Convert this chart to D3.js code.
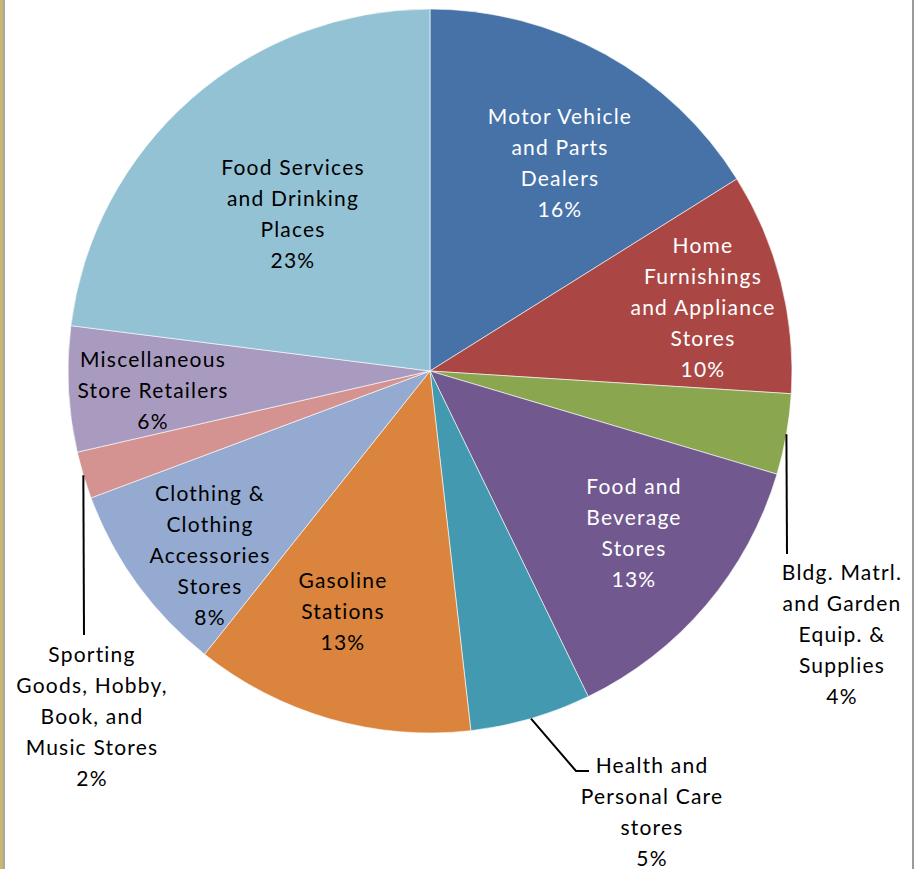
<!DOCTYPE html>
<html>
<head>
<meta charset="utf-8">
<script src="https://d3js.org/d3.v7.min.js"></script>
<style>
  html, body { margin: 0; padding: 0; background: #fff; }
  svg { display: block; }
</style>
</head>
<body>
<svg id="chart" width="914" height="869"></svg>
<script>
// ---- data ----
const categories = [
  "Motor Vehicle and Parts Dealers",
  "Home Furnishings and Appliance Stores",
  "Bldg. Matrl. and Garden Equip. & Supplies",
  "Food and Beverage Stores",
  "Health and Personal Care stores",
  "Gasoline Stations",
  "Clothing & Clothing Accessories Stores",
  "Sporting Goods, Hobby, Book, and Music Stores",
  "Miscellaneous Store Retailers",
  "Food Services and Drinking Places"
];
const shares = [16.1, 9.9, 3.6, 13.2, 5.4, 12.5, 8.6, 2.1, 5.6, 23.0];
const percentLabels = ["16%", "10%", "4%", "13%", "5%", "13%", "8%", "2%", "6%", "23%"];
const labelLines = [
  ["Motor Vehicle", "and Parts", "Dealers"],
  ["Home", "Furnishings", "and Appliance", "Stores"],
  ["Bldg. Matrl.", "and Garden", "Equip. &", "Supplies"],
  ["Food and", "Beverage", "Stores"],
  ["Health and", "Personal Care", "stores"],
  ["Gasoline", "Stations"],
  ["Clothing &", "Clothing", "Accessories", "Stores"],
  ["Sporting", "Goods, Hobby,", "Book, and", "Music Stores"],
  ["Miscellaneous", "Store Retailers"],
  ["Food Services", "and Drinking", "Places"]
];

// ---- styling / layout (not data) ----
const colors = ["#4672A8", "#AA4744", "#8AA64F", "#71588F", "#4399B0",
                "#DB843D", "#94AAD0", "#D49391", "#A99BBF", "#93C2D4"];
const textColors = ["#fff", "#fff", "#000", "#fff", "#000", "#000", "#000", "#000", "#000", "#000"];
// label block centers (x, y of the middle of the text block)
const labelPos = [[560, 163], [703, 307], [842, 634], [634, 533], [652, 812],
                  [343, 611], [210, 555], [92, 716], [153, 390], [293, 214]];
// leader line extra points (after start at arc edge)
const leaders = { 2: [[787, 554]], 4: [[576, 771], [589, 771]], 7: [[84, 635]] };

const cx = 430, cy = 371, R = 362, lineH = 31;

const svg = d3.select("#chart");

// border strips
svg.append("rect").attr("x", 0).attr("y", 0).attr("width", 3).attr("height", 869).attr("fill", "#C9B76C");
svg.append("rect").attr("x", 3).attr("y", 0).attr("width", 2).attr("height", 869).attr("fill", "#A8A8A8");
svg.append("rect").attr("x", 912).attr("y", 0).attr("width", 2).attr("height", 869).attr("fill", "#9A9A9A");

const pie = d3.pie().sort(null).value(d => d)(shares);
const arc = d3.arc().innerRadius(0).outerRadius(R);

const g = svg.append("g").attr("transform", `translate(${cx},${cy})`);
g.selectAll("path.slice")
  .data(pie)
  .join("path")
  .attr("class", "slice")
  .attr("d", arc)
  .attr("fill", (d, i) => colors[i])
  .attr("stroke", "#fff")
  .attr("stroke-width", 0.6);

// leader lines
Object.keys(leaders).forEach(k => {
  const i = +k;
  const p = pie[i];
  const mid = (p.startAngle + p.endAngle) / 2;
  const start = [cx + R * Math.sin(mid), cy - R * Math.cos(mid)];
  const pts = [start].concat(leaders[k]);
  svg.append("path")
    .attr("d", d3.line()(pts))
    .attr("fill", "none")
    .attr("stroke", "#000")
    .attr("stroke-width", 2);
});

// labels
categories.forEach((c, i) => {
  const lines = labelLines[i].concat([percentLabels[i]]);
  const n = lines.length;
  const [lx, ly] = labelPos[i];
  const t = svg.append("text")
    .attr("text-anchor", "middle")
    .attr("font-family", "Lato, 'Open Sans', sans-serif")
    .attr("font-size", 21)
    .attr("letter-spacing", 1.2)
    .attr("fill", textColors[i]);
  lines.forEach((ln, j) => {
    t.append("tspan")
      .attr("x", lx)
      .attr("y", ly + (j - (n - 1) / 2) * lineH + 7.5)
      .text(ln);
  });
});
</script>
</body>
</html>
